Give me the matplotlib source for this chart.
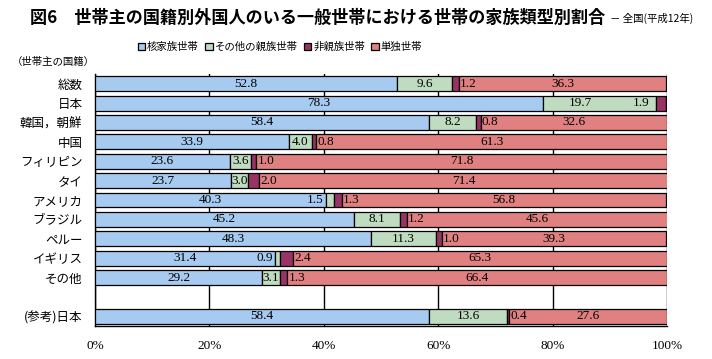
import matplotlib
matplotlib.use("Agg")
import matplotlib.pyplot as plt
import numpy as np

plt.rcParams['font.family'] = ['Noto Sans CJK JP', 'DejaVu Sans']

countries = ['総数', '日本', '韓国，朝鮮', '中国', 'フィリピン', 'タイ', 'アメリカ',
             'ブラジル', 'ペルー', 'イギリス', 'その他', '(参考)日本']
series_names = ['核家族世帯', 'その他の親族世帯', '非親族世帯', '単独世帯']
nuclear = [52.8, 78.3, 58.4, 33.9, 23.6, 23.7, 40.3, 45.2, 48.3, 31.4, 29.2, 58.4]
other_kin = [9.6, 19.7, 8.2, 4.0, 3.6, 3.0, 1.5, 8.1, 11.3, 0.9, 3.1, 13.6]
non_kin = [1.2, 1.9, 0.8, 0.8, 1.0, 2.0, 1.3, 1.2, 1.0, 2.4, 1.3, 0.4]
single = [36.3, 0.0, 32.6, 61.3, 71.8, 71.4, 56.8, 45.6, 39.3, 65.3, 66.4, 27.6]
xticks = [0, 20, 40, 60, 80, 100]

colors = ['#A6CAF0', '#C0DCC0', '#993366', '#E08080']
num_font = dict(family=['Liberation Serif', 'DejaVu Serif'], fontsize=9.5)

fig = plt.figure(figsize=(7.12, 3.59), dpi=100)
ax = fig.add_axes([95 / 712, 1 - 326 / 359, 572 / 712, 252 / 359])

# rows 0..10, then a blank slot, then the reference row
ypos = list(range(11)) + [12]
data = np.array([nuclear, other_kin, non_kin, single])
left = np.zeros(len(countries))
bar_h = 0.77
for vals, col, name in zip(data, colors, series_names):
    ax.barh(ypos, vals, left=left, height=bar_h, color=col, edgecolor='black',
            linewidth=0.9, label=name, zorder=3)
    left = left + vals

# data labels
for i, y in enumerate(ypos):
    n, g, p, s = data[:, i]
    ax.text(n / 2, y, f'{n:.1f}', ha='center', va='center', zorder=5, **num_font)
    g0 = n
    p0 = n + g
    s0 = n + g + p
    # non-kin label: just after its segment, or before it if no room
    if p0 + p + 7 <= 100:
        ax.text(p0 + p + 0.2, y, f'{p:.1f}', ha='left', va='center', zorder=5, **num_font)
        g_end = p0
    else:
        ax.text(p0 - 1.0, y, f'{p:.1f}', ha='right', va='center', zorder=5, **num_font)
        g_end = p0 - 6.5
    if g < 2:
        ax.text(g0 - 0.3, y, f'{g:.1f}', ha='right', va='center', zorder=5, **num_font)
    else:
        ax.text((g0 + g_end) / 2, y, f'{g:.1f}', ha='center', va='center', zorder=5, **num_font)
    if s > 0:
        ax.text(s0 + s / 2, y, f'{s:.1f}', ha='center', va='center', zorder=5, **num_font)

ax.set_xlim(0, 100)
ax.set_ylim(12.5, -0.5)
ax.set_xticks(xticks)
ax.set_xticklabels([f'{t}%' for t in xticks], **num_font)
ax.set_yticks(ypos)
ax.set_yticklabels(countries, fontsize=9)
ax.tick_params(axis='y', length=0, pad=9)
ax.tick_params(axis='x', length=0, pad=10)
ax.xaxis.grid(True, color='black', linewidth=1.0, zorder=0)
for sp in ax.spines.values():
    sp.set_color('black')
    sp.set_linewidth(1.0)
ax.spines['top'].set_visible(False)
ax.spines['right'].set_visible(False)

fig.text(30 / 712, 1 - 18 / 359, '図6　世帯主の国籍別外国人のいる一般世帯における世帯の家族類型別割合',
         ha='left', va='center', fontsize=12.3, fontweight='bold')
fig.text(610 / 712, 1 - 18 / 359, '－ 全国(平成12年)', ha='left', va='center', fontsize=7.5)
fig.text(12 / 712, 1 - 62 / 359, '（世帯主の国籍）', ha='left', va='center', fontsize=7.5)

fig.legend(loc='center', bbox_to_anchor=(280 / 712, 1 - 47 / 359), ncol=4, frameon=False,
           fontsize=7.5, handlelength=0.7, handleheight=0.7, handletextpad=0.2,
           columnspacing=0.6, borderpad=0)

fig.savefig('out.png', dpi=100)
